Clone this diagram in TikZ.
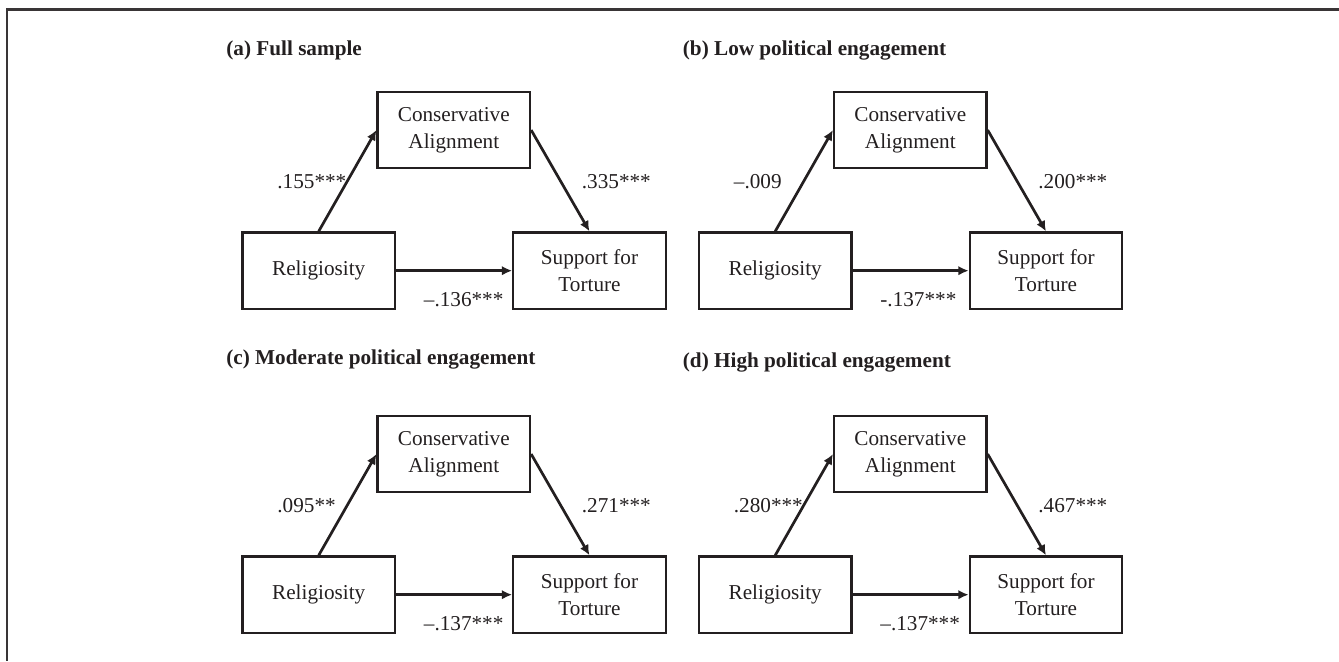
\documentclass[tikz,border=0pt]{standalone}
\usepackage{fontspec}
\setmainfont{Liberation Serif}
\usetikzlibrary{arrows.meta}
\definecolor{ink}{RGB}{35,31,32}
\newcommand{\myfont}{\fontsize{10.6}{13.3}\selectfont}
\tikzset{
  varbox/.style={draw=ink, line width=1.15pt, minimum width=76.2pt, minimum height=38.2pt, inner sep=0pt, align=center, font=\myfont, text=ink},
  patharrow/.style={draw=ink, line width=1.35pt, -{Latex[length=5.2pt,width=4.8pt]}},
  coef/.style={anchor=west, inner sep=0pt, font=\myfont, text=ink},
  paneltitle/.style={anchor=base west, inner sep=0pt, font=\myfont\bfseries, text=ink},
  frameline/.style={draw=ink!90, line width=1.1pt},
}
\newcommand{\medpanel}[8]{%
 \begin{scope}[shift={(#2,#3)}]
  \node[paneltitle] (#1-title) at (226,#8) {#4};
  \node[varbox] (#1-cons) at (453.8,130) {Conservative\\Alignment};
  \node[varbox] (#1-rel) at (318.7,270.7) {Religiosity};
  \node[varbox] (#1-sup) at (589.5,270.7) {Support for\\Torture};
  \draw[patharrow] (#1-rel.north) -- (#1-cons.west);
  \draw[patharrow] (#1-cons.east) -- (#1-sup.north);
  \draw[patharrow] (#1-rel.east) -- (#1-sup.west);
  \node[coef] (#1-a) at (277,182) {#5};
  \node[coef] (#1-b) at (581.5,182) {#6};
  \node[coef] (#1-c) at (423.5,300) {#7};
 \end{scope}}
\begin{document}
\begin{tikzpicture}[x=0.5pt,y=-0.5pt]
\useasboundingbox (0,0) rectangle (1339,661);
\coordinate (fr-tl) at (7,9.5);
\coordinate (fr-tr) at (1339,9.5);
\coordinate (fr-bl) at (7,661);
\draw[frameline] (fr-tr) -- (fr-tl) -- (fr-bl);
\medpanel{pa}{0}{0}{(a) Full sample}{.155***}{.335***}{\textendash.136***}{55.5}
\medpanel{pb}{456.5}{0}{(b) Low political engagement}{\textendash.009}{.200***}{-.137***}{55.5}
\medpanel{pc}{0}{324}{(c) Moderate political engagement}{.095**}{.271***}{\textendash.137***}{40}
\medpanel{pd}{456.5}{324}{(d) High political engagement}{.280***}{.467***}{\textendash.137***}{43}
\end{tikzpicture}
\end{document}
